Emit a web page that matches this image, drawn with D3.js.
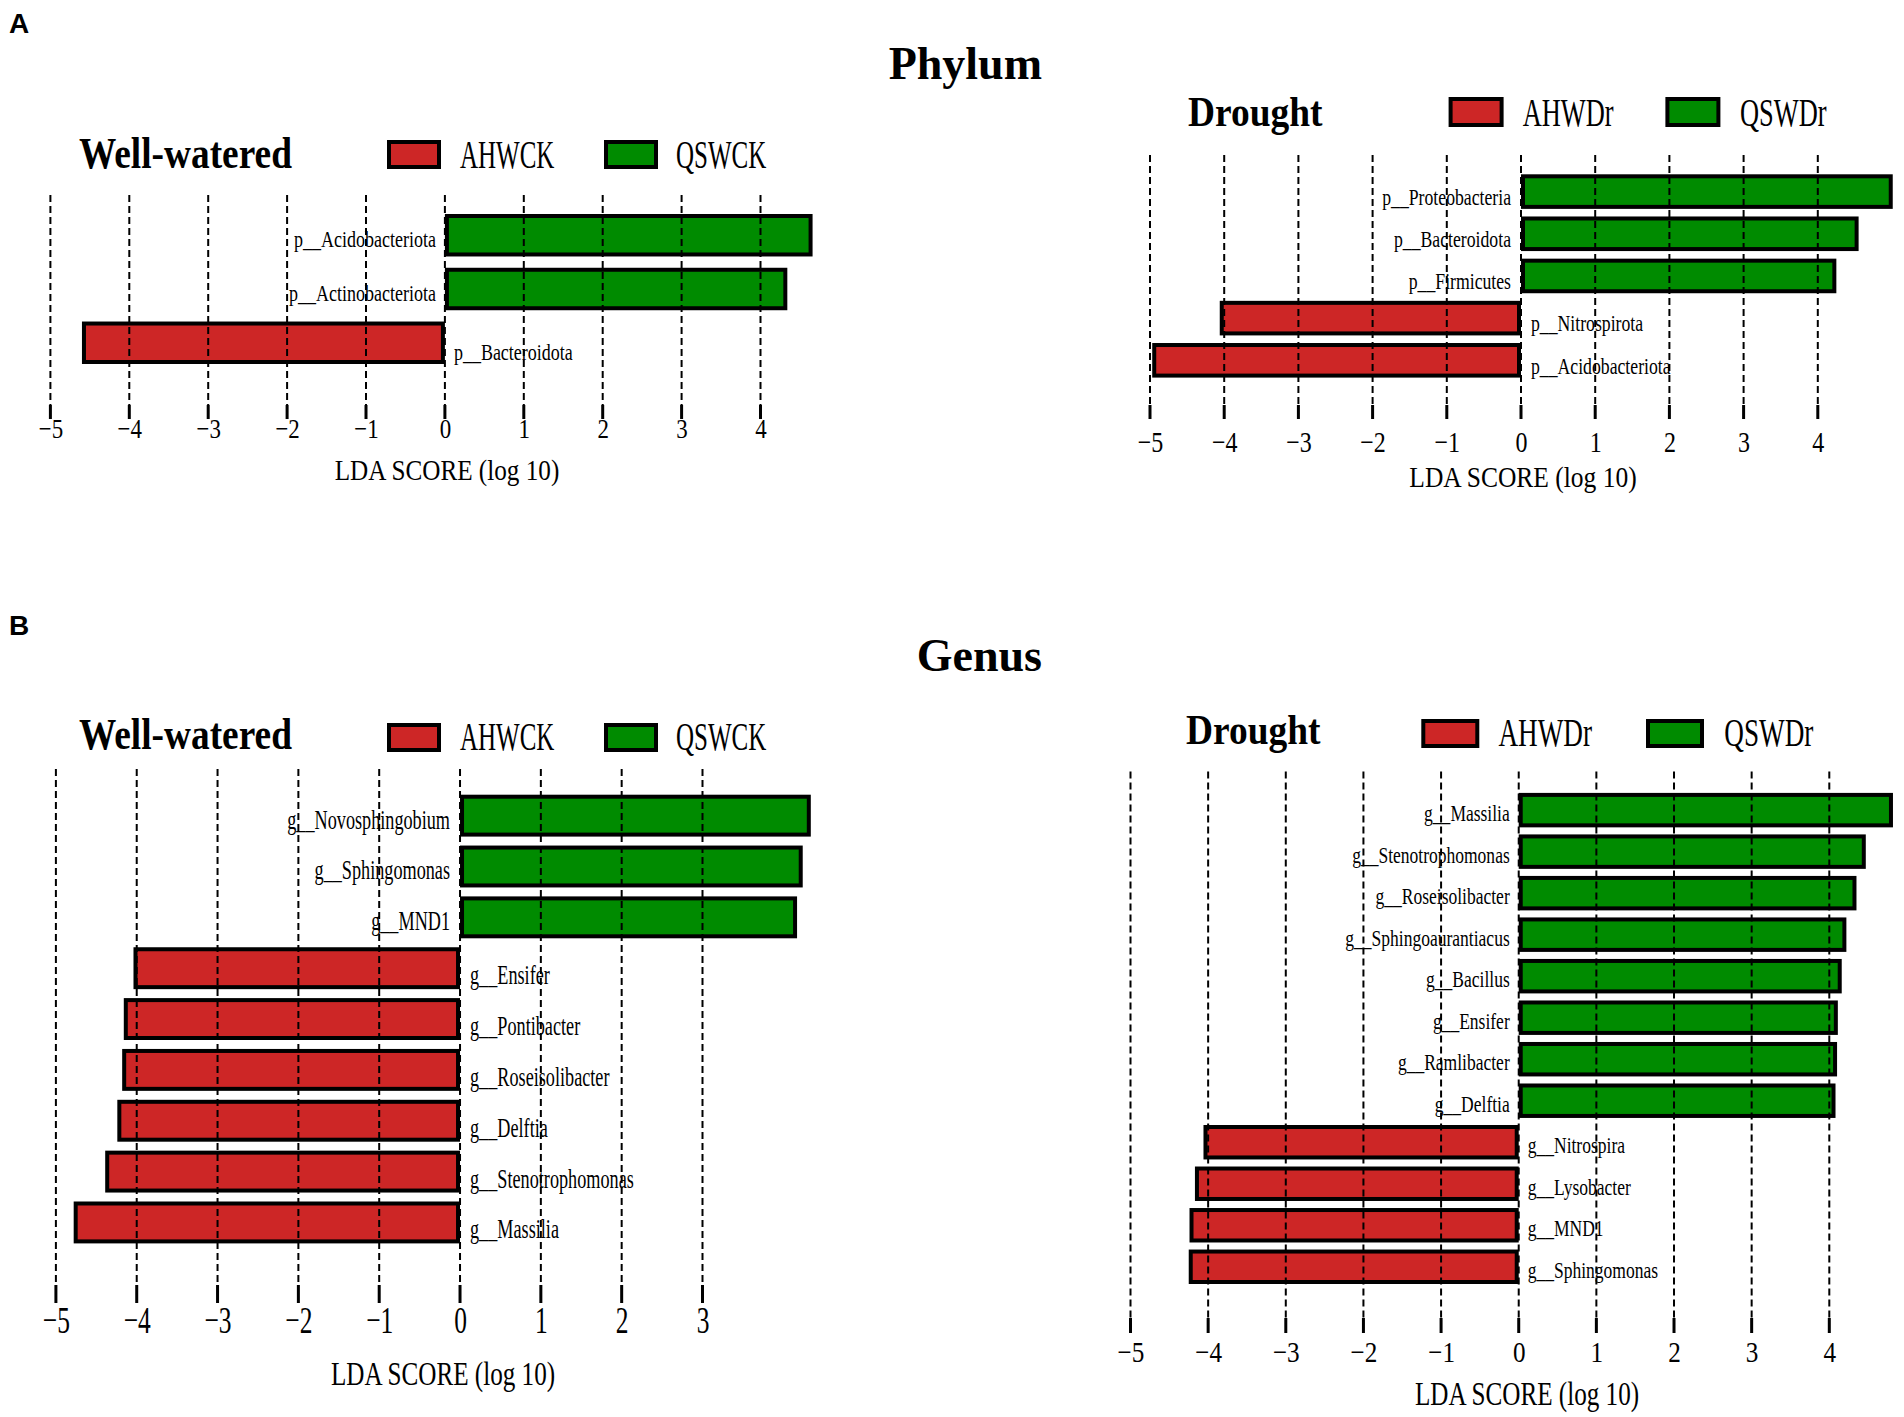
<!DOCTYPE html>
<html>
<head>
<meta charset="utf-8">
<script src="https://cdn.jsdelivr.net/npm/d3@7"></script>
<style>
  body { margin: 0; background: #fff; }
  svg { display: block; }
</style>
</head>
<body>
<div id="chart"></div>
<script>
// LEfSe LDA scores
const phylumWWNames = ["p__Acidobacteriota", "p__Actinobacteriota", "p__Bacteroidota"];
const phylumWWScores = [4.66, 4.34, -4.6];

const phylumDrNames = ["p__Proteobacteria", "p__Bacteroidota", "p__Firmicutes", "p__Nitrospirota", "p__Acidobacteriota"];
const phylumDrScores = [5.01, 4.55, 4.25, -4.06, -4.97];

const genusWWNames = ["g__Novosphingobium", "g__Sphingomonas", "g__MND1", "g__Ensifer", "g__Pontibacter",
  "g__Roseisolibacter", "g__Delftia", "g__Stenotrophomonas", "g__Massilia"];
const genusWWScores = [4.34, 4.24, 4.17, -4.04, -4.16, -4.18, -4.24, -4.39, -4.78];

const genusDrNames = ["g__Massilia", "g__Stenotrophomonas", "g__Roseisolibacter", "g__Sphingoaurantiacus",
  "g__Bacillus", "g__Ensifer", "g__Ramlibacter", "g__Delftia", "g__Nitrospira", "g__Lysobacter",
  "g__MND1", "g__Sphingomonas"];
const genusDrScores = [4.82, 4.47, 4.35, 4.22, 4.16, 4.11, 4.10, 4.08, -4.06, -4.17, -4.24, -4.25];

const ticksNine = [-5, -4, -3, -2, -1, 0, 1, 2, 3];
const ticksTen = [-5, -4, -3, -2, -1, 0, 1, 2, 3, 4];

const groupsWW = ["AHWCK", "QSWCK"];
const groupsDr = ["AHWDr", "QSWDr"];

const negColor = "#CD2626";
const posColor = "#008B00";
const serif = "'Liberation Serif', 'Times New Roman', serif";

const svg = d3.select("#chart").append("svg")
  .attr("width", 1904)
  .attr("height", 1417);

svg.append("rect").attr("width", 1904).attr("height", 1417).attr("fill", "#fff");

// squeezed text, like the resized panels of the original figure
function squeezed(sel, x, y, sx) {
  return sel.attr("transform", `translate(${x},${y}) scale(${sx},1)`);
}

function drawPanel(cfg) {
  const g = svg.append("g");
  const x = d3.scaleLinear().domain([cfg.ticks[0], cfg.ticks[cfg.ticks.length - 1]]).range(cfg.xRange);
  const y = d3.scaleBand().domain(cfg.names).range(cfg.yRange).paddingInner(cfg.pad);
  const rows = cfg.names.map((n, i) => ({ name: n, score: cfg.scores[i] }));
  const sw = 4;

  // title + legend
  squeezed(g.append("text"), cfg.title.x, cfg.title.y, cfg.title.sx)
    .attr("font-family", serif)
    .attr("font-weight", "bold")
    .attr("font-size", cfg.title.size)
    .text(cfg.title.text);

  const leg = g.selectAll(".leg").data(cfg.groups).join("g").attr("class", "leg");
  leg.append("rect")
    .attr("x", (d, i) => cfg.legend.x[i] + sw / 2)
    .attr("y", cfg.legend.y + sw / 2)
    .attr("width", cfg.legend.w - sw)
    .attr("height", cfg.legend.h - sw)
    .attr("fill", (d, i) => (i === 0 ? negColor : posColor))
    .attr("stroke", "#000")
    .attr("stroke-width", sw);
  leg.append("text")
    .attr("transform", (d, i) => `translate(${cfg.legend.tx[i]},${cfg.legend.ty}) scale(${cfg.legend.sx},1)`)
    .attr("font-family", serif)
    .attr("font-size", cfg.legend.size)
    .text((d) => d);

  // bars
  g.selectAll(".bar").data(rows).join("rect")
    .attr("class", "bar")
    .attr("x", (d) => Math.min(x(0), x(d.score)) + sw / 2)
    .attr("y", (d) => y(d.name) + sw / 2)
    .attr("width", (d) => Math.abs(x(d.score) - x(0)) - sw)
    .attr("height", y.bandwidth() - sw)
    .attr("fill", (d) => (d.score < 0 ? negColor : posColor))
    .attr("stroke", "#000")
    .attr("stroke-width", sw);

  // dashed grid on top of the bars, solid tick at the foot
  g.selectAll(".grid").data(cfg.ticks).join("line")
    .attr("class", "grid")
    .attr("x1", (d) => x(d)).attr("x2", (d) => x(d))
    .attr("y1", cfg.gridTop).attr("y2", cfg.gridBottom)
    .attr("stroke", "#000")
    .attr("stroke-width", 2)
    .attr("stroke-dasharray", "7,4");
  g.selectAll(".tick-foot").data(cfg.ticks).join("line")
    .attr("class", "tick-foot")
    .attr("x1", (d) => x(d)).attr("x2", (d) => x(d))
    .attr("y1", cfg.gridBottom).attr("y2", cfg.tickBottom)
    .attr("stroke", "#000")
    .attr("stroke-width", 3);

  // taxon labels
  g.selectAll(".lab").data(rows).join("text")
    .attr("class", "lab")
    .attr("transform", (d) => {
      const pos = d.score >= 0;
      const lx = pos ? x(0) - cfg.label.gap : x(0) + cfg.label.gap;
      const ly = y(d.name) + y.bandwidth() - (pos ? cfg.label.liftPos : cfg.label.liftNeg);
      return `translate(${lx},${ly}) scale(${cfg.label.sx},1)`;
    })
    .attr("text-anchor", (d) => (d.score >= 0 ? "end" : "start"))
    .attr("font-family", serif)
    .attr("font-size", cfg.label.size)
    .text((d) => d.name);

  // axis tick labels
  const ax = g.append("g")
    .attr("transform", `translate(0,${cfg.axis.y})`)
    .call(d3.axisBottom(x).tickValues(cfg.ticks).tickSize(0).tickPadding(0).tickFormat(d3.format("d")));
  ax.select(".domain").remove();
  ax.selectAll("text")
    .attr("y", 0)
    .attr("dy", null)
    .attr("transform", `scale(${cfg.axis.sx},1)`)
    .attr("fill", "#000")
    .attr("font-family", serif)
    .attr("font-size", cfg.axis.size);

  squeezed(g.append("text"), cfg.xTitle.x, cfg.xTitle.y, cfg.xTitle.sx)
    .attr("text-anchor", "middle")
    .attr("font-family", serif)
    .attr("font-size", cfg.xTitle.size)
    .text("LDA SCORE (log 10)");
}

// panel letters and section titles
[["A", 33], ["B", 635]].forEach(([t, yy]) => {
  svg.append("text").attr("x", 9).attr("y", yy)
    .attr("font-family", "'Liberation Sans', Arial, sans-serif")
    .attr("font-weight", "bold").attr("font-size", 28).text(t);
});
[["Phylum", 79], ["Genus", 671]].forEach(([t, yy]) => {
  svg.append("text").attr("x", 1042).attr("y", yy)
    .attr("text-anchor", "end")
    .attr("font-family", serif)
    .attr("font-weight", "bold").attr("font-size", 46).text(t);
});

drawPanel({
  names: phylumWWNames, scores: phylumWWScores, ticks: ticksTen, groups: groupsWW,
  xRange: [50.4, 760.5], yRange: [214, 364], pad: 0.21,
  gridTop: 195, gridBottom: 405, tickBottom: 419,
  title: { text: "Well-watered", x: 79, y: 168, size: 45, sx: 0.83 },
  legend: { x: [387, 604], y: 140, w: 54, h: 29, tx: [460, 676], ty: 168, size: 41, sx: 0.61 },
  label: { size: 24, sx: 0.75, gap: 9, liftPos: 9, liftNeg: 4 },
  axis: { y: 438, size: 28, sx: 0.82 },
  xTitle: { x: 447, y: 480, size: 30, sx: 0.84 }
});

drawPanel({
  names: phylumDrNames, scores: phylumDrScores, ticks: ticksTen, groups: groupsDr,
  xRange: [1150, 1817.8], yRange: [174.3, 377.6], pad: 0.18,
  gridTop: 155, gridBottom: 405, tickBottom: 419,
  title: { text: "Drought", x: 1188, y: 126, size: 43, sx: 0.87 },
  legend: { x: [1448.6, 1665.4], y: 97, w: 55, h: 30, tx: [1522.7, 1740], ty: 126, size: 40, sx: 0.66 },
  label: { size: 23, sx: 0.77, gap: 10, liftPos: 4, liftNeg: 4 },
  axis: { y: 452, size: 30, sx: 0.8 },
  xTitle: { x: 1523, y: 487, size: 30, sx: 0.85 }
});

drawPanel({
  names: genusWWNames, scores: genusWWScores, ticks: ticksNine, groups: groupsWW,
  xRange: [55.9, 702.5], yRange: [794.7, 1243.4], pad: 0.176,
  gridTop: 769, gridBottom: 1285, tickBottom: 1303,
  title: { text: "Well-watered", x: 79, y: 749, size: 45, sx: 0.83 },
  legend: { x: [387, 604], y: 723, w: 54, h: 29, tx: [460, 676], ty: 750, size: 41, sx: 0.61 },
  label: { size: 28, sx: 0.65, gap: 10, liftPos: 8, liftNeg: 5 },
  axis: { y: 1333, size: 38, sx: 0.67 },
  xTitle: { x: 443, y: 1385, size: 34, sx: 0.74 }
});

drawPanel({
  names: genusDrNames, scores: genusDrScores, ticks: ticksTen, groups: groupsDr,
  xRange: [1130.5, 1829.3], yRange: [792.9, 1284], pad: 0.17,
  gridTop: 771.6, gridBottom: 1318, tickBottom: 1333,
  title: { text: "Drought", x: 1186, y: 744, size: 43, sx: 0.87 },
  legend: { x: [1421.3, 1646], y: 719, w: 58, h: 29, tx: [1498.4, 1724.3], ty: 746, size: 40, sx: 0.68 },
  label: { size: 24, sx: 0.73, gap: 9, liftPos: 6, liftNeg: 6 },
  axis: { y: 1362, size: 30, sx: 0.84 },
  xTitle: { x: 1527, y: 1405, size: 34, sx: 0.74 }
});
</script>
</body>
</html>
